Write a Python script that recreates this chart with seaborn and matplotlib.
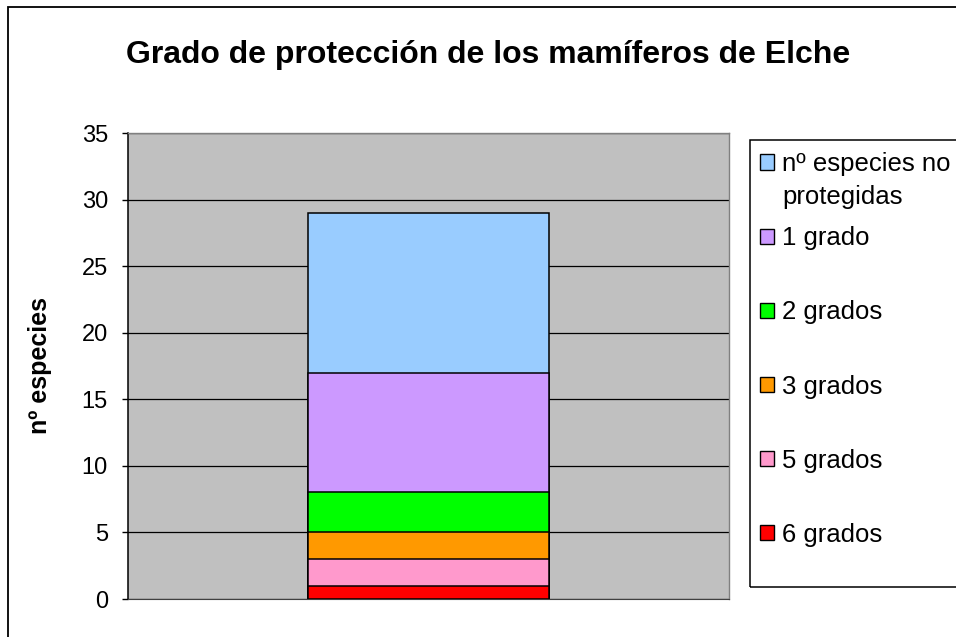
import matplotlib
matplotlib.use("Agg")
import matplotlib.pyplot as plt
import matplotlib.patches as mpatches
import seaborn as sns
import numpy as np
import pandas as pd

# datos (de arriba hacia abajo en la leyenda)
categorias = ["nº especies no protegidas", "1 grado", "2 grados", "3 grados", "5 grados", "6 grados"]
valores = [12, 9, 3, 2, 2, 1]
colores = ["#99CCFF", "#CC99FF", "#00FF00", "#FF9900", "#FF99CC", "#FF0000"]
marcas_y = [0, 5, 10, 15, 20, 25, 30, 35]
grupo = ["Elche"]

plt.rcParams['font.family'] = ['Liberation Sans', 'DejaVu Sans']

fig = plt.figure(figsize=(9.56, 6.37), dpi=100)
ax = fig.add_axes([128/956, 38/637, 601/956, 466/637])

# barras apiladas: se dibujan los acumulados, del mas alto al mas bajo
acumulado = np.cumsum(valores[::-1])[::-1]
for i in range(len(categorias)):
    df = pd.DataFrame({"grupo": grupo, "total": [acumulado[i]]})
    sns.barplot(data=df, x="grupo", y="total", color=colores[i], saturation=1,
                width=0.4, edgecolor="black", linewidth=1.1, errorbar=None,
                ax=ax, zorder=3)

ax.set_facecolor("#C0C0C0")
ax.set_xlim(-0.5, 0.5)
ax.set_ylim(0, 35)
ax.set_yticks(marcas_y)
ax.set_xticks([])
ax.set_xlabel("")
ax.yaxis.grid(True, color="black", linewidth=0.9)
ax.set_axisbelow(True)
ax.tick_params(axis="y", length=4.5, width=1, color="black", labelsize=17, pad=10)

for lado in ["top", "right"]:
    ax.spines[lado].set_color("#808080")
    ax.spines[lado].set_linewidth(1)
ax.spines["bottom"].set_color("#404040")
ax.spines["left"].set_color("black")
ax.spines["left"].set_linewidth(1.1)

ax.set_ylabel("nº especies", fontsize=18, fontweight="bold")
ax.yaxis.set_label_coords((52 - 128) / 601, 0.5)

fig.text(488/956, 1 - 55/637, "Grado de protección de los mamíferos de Elche",
         ha="center", va="center", fontsize=23, fontweight="bold")

# leyenda
handles = [mpatches.Patch(facecolor=c, edgecolor="black", linewidth=1) for c in colores]
etiquetas = ["nº especies no"] + categorias[1:]
fig.legend(handles, etiquetas, loc="upper left", bbox_to_anchor=(750/956, 1 - 142/637),
           frameon=False, fontsize=18.5, handlelength=0.55, handleheight=0.55,
           handletextpad=0.3, labelspacing=1.95, borderpad=0.4, borderaxespad=0)
fig.text(782/956, 1 - 197/637, "protegidas", ha="left", va="center", fontsize=18.5)

# marco de la leyenda y del grafico (recortados por el borde)
fig.patches.append(mpatches.Rectangle((750/956, 1 - 587/637), 0.5, 447/637,
                                      transform=fig.transFigure, fill=False,
                                      edgecolor="black", linewidth=1.1))
fig.patches.append(mpatches.Rectangle((8/956, -0.5), 2, 1.5 - 7/637,
                                      transform=fig.transFigure, fill=False,
                                      edgecolor="black", linewidth=1.3))

plt.savefig("out.png", dpi=100)
